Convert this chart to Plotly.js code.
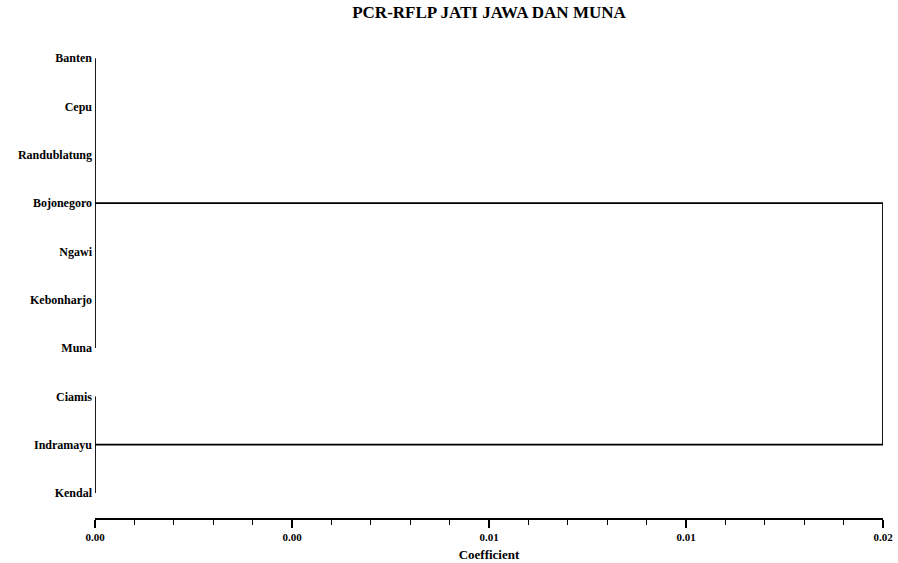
<!DOCTYPE html>
<html>
<head>
<meta charset="utf-8">
<script src="https://cdn.plot.ly/plotly-3.0.1.min.js"></script>
<style>html,body{margin:0;padding:0;background:#fff;}#chart{width:898px;height:563px;}</style>
</head>
<body>
<div id="chart"></div>
<script>
// Leaves in dendrogram order (top to bottom)
const leaves = ["Banten","Cepu","Randublatung","Bojonegoro","Ngawi","Kebonharjo","Muna","Ciamis","Indramayu","Kendal"];
// Clusters: members (indices into leaves), joining coefficient, representative leaf
const clusterMembers = [[0,1,2,3,4,5,6],[7,8,9]];
const clusterHeights = [0.0, 0.0];
const clusterReps = [3, 8];
const rootHeight = 0.02;
// Axis ticks
const xTickVals = [0, 0.005, 0.01, 0.015, 0.02];
const xTickText = ["0.00","0.00","0.01","0.01","0.02"];

const pos = leaves.map((_, i) => i + 1);
const serif = "Liberation Serif";
const lineStyle = {color: "black", width: 1.8};
const traces = [];
clusterMembers.forEach((m, k) => {
  const h = clusterHeights[k];
  traces.push({x: [h, h], y: [pos[m[0]], pos[m[m.length-1]]], mode: "lines", line: lineStyle, cliponaxis: false, hoverinfo: "skip", showlegend: false});
  traces.push({x: [h, rootHeight], y: [pos[clusterReps[k]], pos[clusterReps[k]]], mode: "lines", line: lineStyle, cliponaxis: false, hoverinfo: "skip", showlegend: false});
});
traces.push({x: [rootHeight, rootHeight], y: clusterReps.map(r => pos[r]), mode: "lines", line: lineStyle, cliponaxis: false, hoverinfo: "skip", showlegend: false});

const layout = {
  width: 898, height: 563,
  margin: {l: 95, r: 15, t: 34, b: 45},
  paper_bgcolor: "white", plot_bgcolor: "white",
  font: {family: serif, color: "black", size: 11},
  title: {text: "<b>PCR-RFLP JATI JAWA DAN MUNA</b>", x: 0.5, xref: "paper", y: 0.99, yref: "container", yanchor: "top", font: {family: serif, size: 17, color: "black"}},
  xaxis: {
    range: [0, 0.02], showgrid: false, zeroline: false,
    showline: true, linecolor: "black", linewidth: 1.6,
    ticks: "outside", ticklen: 8, tickwidth: 1.5, tickcolor: "black",
    tickvals: xTickVals, ticktext: xTickText.map(s => "<b>" + s + "</b>"),
    tickfont: {family: serif, size: 11, color: "black"},
    minor: {dtick: 0.001, ticks: "outside", ticklen: 5, tickwidth: 1.2, tickcolor: "black", showgrid: false},
    title: {text: "<b>Coefficient</b>", font: {family: serif, size: 13, color: "black"}, standoff: 8},
    fixedrange: true
  },
  yaxis: {
    range: [10.517, 0.5], showgrid: false, zeroline: false, showline: false,
    tickvals: pos, ticktext: leaves.map(s => "<b>" + s + "</b>"),
    ticks: "", ticklabelstandoff: 2,
    tickfont: {family: serif, size: 12, color: "black"},
    fixedrange: true
  }
};
Plotly.newPlot("chart", traces, layout, {displayModeBar: false, staticPlot: true});
</script>
</body>
</html>
